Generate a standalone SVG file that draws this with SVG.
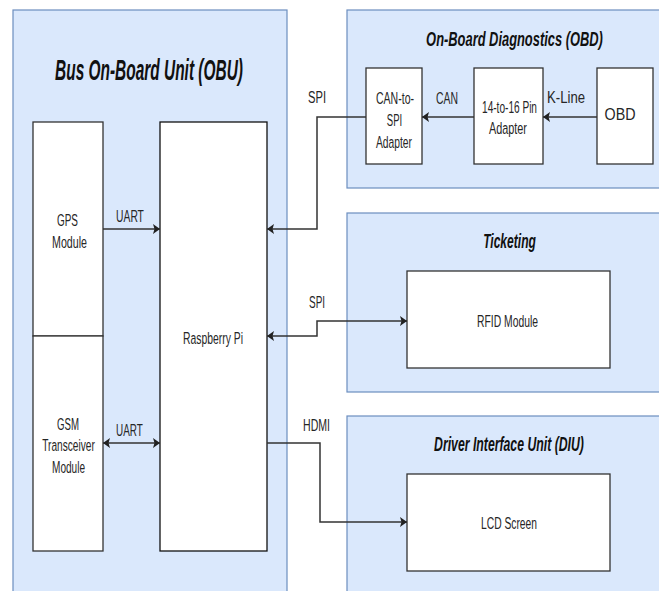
<svg xmlns="http://www.w3.org/2000/svg" width="659" height="591" viewBox="0 0 659 591">
<style>
.bg{fill:#ffffff}
.cont{fill:#dae8fc;stroke:#6c8ebf;stroke-width:1.2}
.box{fill:#ffffff;stroke:#333333;stroke-width:1.3}
.t{font-family:"Liberation Sans",Arial,sans-serif;font-size:17px;fill:#262626;text-anchor:middle}
.h{font-family:"Liberation Sans",Arial,sans-serif;font-weight:bold;font-style:italic;font-size:21px;fill:#111111;text-anchor:middle}
.c{fill:none;stroke:#333333;stroke-width:1.5}
</style>
<defs>
<marker id="arr" viewBox="0 0 7 10" refX="7" refY="5" markerWidth="7" markerHeight="10" markerUnits="userSpaceOnUse" orient="auto-start-reverse">
<path d="M0,0 L7,5 L0,10 L1.5,5 z" fill="#222222"/>
</marker>
</defs>
<rect class="bg" x="0" y="0" width="659" height="591"/>

<g id="obu-container">
<rect class="cont" x="13" y="10" width="274" height="590"/>
<text class="h" transform="translate(149,80) scale(0.533,1)" style="font-size:29px">Bus On-Board Unit (OBU)</text>
</g>
<g id="obd-container">
<rect class="cont" x="347" y="10" width="330" height="178"/>
<text class="h" transform="translate(514.5,45.5) scale(0.614,1)">On-Board Diagnostics (OBD)</text>
</g>
<g id="ticketing-container">
<rect class="cont" x="347" y="213" width="330" height="179"/>
<text class="h" transform="translate(509.5,248) scale(0.575,1)">Ticketing</text>
</g>
<g id="diu-container">
<rect class="cont" x="347" y="416" width="330" height="190"/>
<text class="h" transform="translate(509,451) scale(0.584,1)">Driver Interface Unit (DIU)</text>
</g>

<g id="gps">
<rect class="box" x="33" y="122" width="70" height="214"/>
<text class="t" transform="translate(67.5,226) scale(0.585,1)">GPS</text>
<text class="t" transform="translate(69.5,248) scale(0.628,1)">Module</text>
</g>
<g id="gsm">
<rect class="box" x="33" y="336" width="70" height="215"/>
<text class="t" transform="translate(68,430) scale(0.568,1)">GSM</text>
<text class="t" transform="translate(68.5,451) scale(0.597,1)">Transceiver</text>
<text class="t" transform="translate(68.5,473) scale(0.592,1)">Module</text>
</g>
<g id="raspberry-pi">
<rect class="box" x="160" y="122" width="107" height="429" style="stroke:#111111"/>
<text class="t" transform="translate(213,344) scale(0.611,1)">Raspberry Pi</text>
</g>
<g id="can-to-spi">
<rect class="box" x="366" y="68" width="56" height="96"/>
<text class="t" transform="translate(395,104) scale(0.619,1)">CAN-to-</text>
<text class="t" transform="translate(394.5,126) scale(0.56,1)">SPI</text>
<text class="t" transform="translate(394,148) scale(0.605,1)">Adapter</text>
</g>
<g id="pin-adapter">
<rect class="box" x="474" y="68" width="69" height="96"/>
<text class="t" transform="translate(509.5,113) scale(0.594,1)">14-to-16 Pin</text>
<text class="t" transform="translate(508,134) scale(0.638,1)">Adapter</text>
</g>
<g id="obd">
<rect class="box" x="597" y="68" width="56" height="96"/>
<text class="t" transform="translate(620,120) scale(0.842,1)">OBD</text>
</g>
<g id="rfid">
<rect class="box" x="407" y="271" width="203" height="97"/>
<text class="t" transform="translate(507.5,327) scale(0.609,1)">RFID Module</text>
</g>
<g id="lcd">
<rect class="box" x="407" y="474" width="203" height="97"/>
<text class="t" transform="translate(509,529) scale(0.605,1)">LCD Screen</text>
</g>

<g id="connectors">
<path class="c" d="M597,117 L543,117" marker-end="url(#arr)"/>
<path class="c" d="M474,117 L422,117" marker-end="url(#arr)"/>
<path class="c" d="M366,117 L317,117 L317,229 L267,229" marker-end="url(#arr)"/>
<path class="c" d="M103,229 L160,229" marker-end="url(#arr)"/>
<path class="c" d="M103,443 L160,443" marker-start="url(#arr)" marker-end="url(#arr)"/>
<path class="c" d="M267,336 L317,336 L317,321 L407,321" marker-start="url(#arr)" marker-end="url(#arr)"/>
<path class="c" d="M267,443 L320,443 L320,522 L407,522" marker-end="url(#arr)"/>
<text class="t" transform="translate(317,103) scale(0.657,1)">SPI</text>
<text class="t" transform="translate(447,104) scale(0.613,1)">CAN</text>
<text class="t" transform="translate(566,103) scale(0.774,1)">K-Line</text>
<text class="t" transform="translate(130,222) scale(0.605,1)">UART</text>
<text class="t" transform="translate(129.5,436) scale(0.583,1)">UART</text>
<text class="t" transform="translate(317,308) scale(0.584,1)">SPI</text>
<text class="t" transform="translate(316.5,431) scale(0.622,1)">HDMI</text>
</g>
</svg>
